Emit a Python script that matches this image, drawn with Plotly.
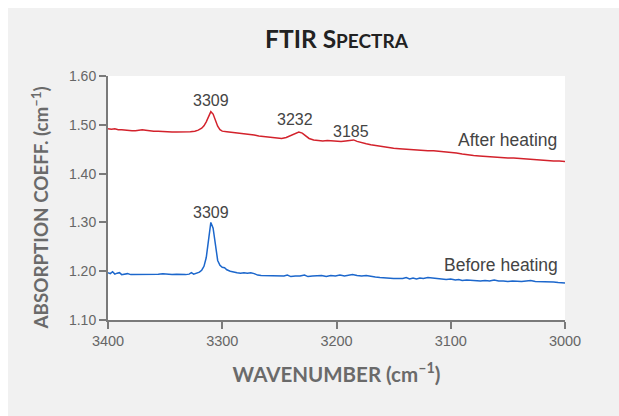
import plotly.graph_objects as go

# ---- data ----
after_wn = [3400, 3397, 3394, 3391, 3388, 3385, 3382, 3379, 3376, 3373, 3370, 3367, 3364, 3360, 3356,
            3352, 3348, 3344, 3340, 3336, 3332, 3328, 3324, 3321, 3318, 3316, 3314, 3312, 3310, 3308,
            3306, 3304, 3302, 3300, 3296, 3292, 3288, 3284, 3280, 3276, 3272, 3268, 3264, 3260, 3256,
            3252, 3248, 3244, 3240, 3236, 3233, 3230, 3227, 3224, 3220, 3216, 3212, 3208, 3204, 3200,
            3196, 3192, 3188, 3185, 3182, 3178, 3174, 3170, 3165, 3160, 3155, 3150, 3145, 3140, 3135,
            3130, 3125, 3120, 3115, 3110, 3105, 3100, 3095, 3090, 3085, 3080, 3075, 3070, 3065, 3060,
            3055, 3050, 3045, 3040, 3035, 3030, 3025, 3020, 3015, 3010, 3005, 3000]
after_val = [1.492, 1.491, 1.492, 1.490, 1.490, 1.489, 1.489, 1.488, 1.488, 1.489, 1.490, 1.489, 1.488, 1.487, 1.487,
             1.486, 1.486, 1.485, 1.485, 1.485, 1.486, 1.486, 1.487, 1.489, 1.493, 1.498, 1.506, 1.518, 1.527, 1.522,
             1.508, 1.497, 1.490, 1.487, 1.486, 1.485, 1.483, 1.482, 1.481, 1.480, 1.479, 1.477, 1.476, 1.475, 1.474,
             1.473, 1.472, 1.474, 1.478, 1.483, 1.485, 1.483, 1.478, 1.472, 1.469, 1.468, 1.467, 1.468, 1.467, 1.466,
             1.466, 1.467, 1.468, 1.469, 1.466, 1.463, 1.461, 1.459, 1.457, 1.455, 1.453, 1.452, 1.451, 1.450, 1.450,
             1.449, 1.448, 1.447, 1.447, 1.446, 1.445, 1.444, 1.442, 1.440, 1.438, 1.437, 1.436, 1.435, 1.434, 1.433,
             1.433, 1.432, 1.432, 1.431, 1.431, 1.430, 1.429, 1.428, 1.427, 1.426, 1.426, 1.425]

before_wn = [3400, 3398, 3396, 3394, 3392, 3390, 3388, 3386, 3383, 3380, 3377, 3374, 3371, 3368, 3365,
             3362, 3359, 3356, 3352, 3348, 3344, 3340, 3336, 3332, 3329, 3327, 3325, 3322, 3320, 3318,
             3316, 3314, 3312, 3310, 3308, 3306, 3304, 3302, 3300, 3298, 3296, 3293, 3290, 3287, 3284,
             3281, 3278, 3275, 3272, 3269, 3266, 3262, 3258, 3254, 3250, 3246, 3243, 3240, 3236, 3232,
             3228, 3225, 3221, 3217, 3213, 3209, 3205, 3201, 3197, 3193, 3190, 3186, 3182, 3178, 3174,
             3170, 3166, 3162, 3158, 3154, 3150, 3146, 3142, 3139, 3136, 3133, 3130, 3127, 3124, 3120,
             3116, 3112, 3108, 3104, 3100, 3096, 3093, 3090, 3086, 3082, 3078, 3074, 3070, 3066, 3062,
             3058, 3054, 3050, 3046, 3042, 3038, 3034, 3030, 3026, 3022, 3018, 3014, 3010, 3006, 3003, 3000]
before_val = [1.197, 1.195, 1.199, 1.194, 1.196, 1.197, 1.193, 1.194, 1.195, 1.193, 1.193, 1.193, 1.194, 1.193, 1.193,
              1.194, 1.193, 1.194, 1.195, 1.194, 1.193, 1.194, 1.193, 1.193, 1.194, 1.197, 1.194, 1.196, 1.198, 1.202,
              1.210, 1.228, 1.262, 1.300, 1.288, 1.250, 1.222, 1.212, 1.208, 1.207, 1.203, 1.200, 1.198, 1.197, 1.196,
              1.197, 1.196, 1.197, 1.195, 1.192, 1.191, 1.191, 1.191, 1.190, 1.191, 1.190, 1.192, 1.189, 1.190, 1.190,
              1.192, 1.189, 1.190, 1.190, 1.191, 1.189, 1.191, 1.190, 1.192, 1.190, 1.191, 1.193, 1.191, 1.190, 1.191,
              1.189, 1.188, 1.187, 1.186, 1.186, 1.185, 1.185, 1.185, 1.187, 1.184, 1.186, 1.184, 1.186, 1.185, 1.187,
              1.186, 1.184, 1.184, 1.183, 1.184, 1.182, 1.183, 1.181, 1.182, 1.181, 1.181, 1.180, 1.181, 1.180, 1.182,
              1.180, 1.180, 1.179, 1.180, 1.179, 1.179, 1.180, 1.181, 1.179, 1.179, 1.178, 1.179, 1.178, 1.177, 1.177, 1.176]

x_ticks = [3400, 3300, 3200, 3100, 3000]
y_ticks = [1.10, 1.20, 1.30, 1.40, 1.50, 1.60]

peak_labels = [("3309", 3310, 1.549), ("3232", 3236, 1.510), ("3185", 3187, 1.487), ("3309", 3310, 1.320)]
series_labels = [("After heating", 3005, 1.469), ("Before heating", 3004, 1.213)]

RED = "#d3222c"
BLUE = "#1c67cc"
AXIS = "#7a7a7a"
LABEL_FONT = "Lato, 'Open Sans', sans-serif"
TICK_FONT = "'Liberation Sans', Arial, sans-serif"

W, H = 619, 408
ML, MR, MT, MB = 100, 62, 68, 96
PW, PH = W - ML - MR, H - MT - MB

fig = go.Figure()
fig.add_trace(go.Scatter(x=after_wn, y=after_val, mode="lines",
                         line=dict(color=RED, width=1.5), showlegend=False, hoverinfo="skip"))
fig.add_trace(go.Scatter(x=before_wn, y=before_val, mode="lines",
                         line=dict(color=BLUE, width=1.5), showlegend=False, hoverinfo="skip"))

for txt, xx, yy in peak_labels:
    fig.add_annotation(x=xx, y=yy, text=txt, showarrow=False, xanchor="center", yanchor="middle",
                       font=dict(family=TICK_FONT, size=16, color="#444444"))
for txt, xx, yy in series_labels:
    fig.add_annotation(x=xx, y=yy, text=txt, showarrow=False, xanchor="right", yanchor="middle",
                       font=dict(family=TICK_FONT, size=17.5, color="#444444"))

# y-axis title (placed as annotation to match offset in reference)
fig.add_annotation(xref="paper", yref="paper", x=(32 - ML) / PW, y=1 - (200.5 - MT) / PH,
                   text="ABSORPTION COEFF. (cm<sup>–1</sup>)", textangle=-90, showarrow=False,
                   xanchor="center", yanchor="middle",
                   font=dict(family=LABEL_FONT, size=18.8, color="#6a6a6a", weight="bold"))

fig.update_layout(
    width=W, height=H,
    margin=dict(l=ML, r=MR, t=MT, b=MB),
    paper_bgcolor="#f1f1f1",
    plot_bgcolor="white",
    title=dict(text="FTIR S<span style='font-size:19px'>PECTRA</span>",
               x=328.5 / W, xanchor="center", y=1 - 31 / H, yanchor="middle",
               font=dict(family=LABEL_FONT, size=24.5, color="#222222", weight="bold")),
    xaxis=dict(range=[3400, 3000], tickvals=x_ticks, ticktext=[str(v) for v in x_ticks],
               showgrid=False, zeroline=False, showline=True, linecolor=AXIS, linewidth=2,
               ticks="outside", ticklen=7, tickwidth=2, tickcolor=AXIS,
               tickfont=dict(family=TICK_FONT, size=14.5, color="#666666"),
               title=dict(text="WAVENUMBER (cm<sup>–1</sup>)", standoff=19,
                          font=dict(family=LABEL_FONT, size=20.5, color="#6a6a6a", weight="bold"))),
    yaxis=dict(range=[1.10, 1.60], tickvals=y_ticks, ticktext=[f"{v:.2f}" for v in y_ticks],
               showgrid=False, zeroline=False, showline=True, linecolor=AXIS, linewidth=2,
               ticks="outside", ticklen=7, tickwidth=2, tickcolor=AXIS,
               tickfont=dict(family=TICK_FONT, size=14, color="#666666")),
)

fig.write_html("out.html",
               post_script="document.body.style.overflow='hidden';"
                           "document.body.style.margin='8px 0 0 8px';"
                           "document.documentElement.style.overflow='hidden';")
